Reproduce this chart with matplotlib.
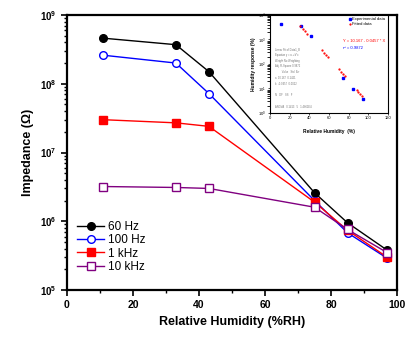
import matplotlib
matplotlib.use("Agg")
import matplotlib.pyplot as plt
import numpy as np

plt.rcParams['font.family'] = ['Liberation Sans', 'DejaVu Sans']

rh = [11, 33, 43, 75, 85, 97]
z_60hz = [4.6e8, 3.7e8, 1.5e8, 2.6e6, 9.5e5, 3.8e5]
z_100hz = [2.6e8, 2.0e8, 7.2e7, 2.0e6, 6.8e5, 2.9e5]
z_1khz = [3.0e7, 2.7e7, 2.4e7, 1.9e6, 7.4e5, 3.0e5]
z_10khz = [3.2e6, 3.1e6, 3.0e6, 1.6e6, 7.6e5, 3.5e5]
labels = ['60 Hz', '100 Hz', '1 kHz', '10 kHz']

inset_x = [11, 32, 41.5, 74, 84, 95]
inset_y = [4200, 3400, 1400, 26, 9.5, 3.8]
fit_x = [31, 34, 36, 38, 53, 55, 57, 59, 70, 72, 74, 76, 88, 90, 92, 94]

fig = plt.figure(figsize=(4.1, 3.42), dpi=100)
ax = fig.add_axes([67/410, 52/342, 330/410, 275/342])

ax.plot(rh, z_60hz, '-o', color='black', mfc='black', mec='black', ms=5.5, lw=1.0, label=labels[0])
ax.plot(rh, z_100hz, '-o', color='blue', mfc='white', mec='blue', ms=5.5, lw=1.0, label=labels[1])
ax.plot(rh, z_1khz, '-s', color='red', mfc='red', mec='red', ms=5.5, lw=1.0, label=labels[2])
ax.plot(rh, z_10khz, '-s', color='#800080', mfc='white', mec='#800080', ms=5.5, lw=1.0, label=labels[3])

ax.set_yscale('log')
ax.set_ylim(1e5, 1e9)
ax.set_xlim(0, 100)
ax.set_xticks([0, 20, 40, 60, 80, 100])
ax.set_xticks([10, 30, 50, 70, 90], minor=True)
for lab in ax.get_xticklabels():
    lab.set_fontweight('bold')
    lab.set_fontsize(7.5)
for lab in ax.get_yticklabels():
    lab.set_fontweight('bold')
    lab.set_fontsize(7)
ax.tick_params(axis='both', which='major', length=4, width=1.2, direction='out')
ax.tick_params(axis='both', which='minor', length=2.5, width=1, direction='out')
for s in ax.spines.values():
    s.set_linewidth(1.6)
ax.set_xlabel('Relative Humidity (%RH)', fontsize=9, fontweight='bold')
ax.set_ylabel('Impedance (\u03a9)', fontsize=9, fontweight='bold')
ax.legend(loc='lower left', frameon=False, fontsize=8.5, handlelength=2.3,
          handletextpad=0.3, labelspacing=0.1, borderaxespad=0.6,
          bbox_to_anchor=(-0.005, 0.02))

# inset
ins = fig.add_axes([270/410, 229/342, 118/410, 98/342])
ins.plot(inset_x, inset_y, 's', color='blue', ms=1.5, label='Experimental data')
fit_y = [10 ** (4.98 - 0.0457 * x) for x in fit_x]
ins.plot(fit_x, fit_y, '.', color='red', ms=1.2, label='Fitted data')
ins.set_yscale('log')
ins.set_ylim(1, 1e4)
ins.set_xlim(0, 120)
ins.set_xticks([0, 20, 40, 60, 80, 100, 120])
ins.tick_params(labelsize=3, length=1.5, width=0.5, pad=1)
for s in ins.spines.values():
    s.set_linewidth(0.8)
ins.set_xlabel('Relative Humidity  (%)', fontsize=3.5, fontweight='bold', labelpad=6)
ins.set_ylabel('Humidity response (%)', fontsize=3.5, fontweight='bold', labelpad=2)
ins.legend(loc='upper right', frameon=False, fontsize=3, handlelength=0.6,
           handletextpad=0.3, labelspacing=0.2, borderaxespad=0.2)
ins.text(0.62, 0.72, 'Y = 10.167 - 0.0457 * X', color='red', fontsize=3, transform=ins.transAxes)
ins.text(0.62, 0.65, 'r\u00b2 = 0.9872', color='blue', fontsize=3, transform=ins.transAxes)
table = ('Linear Fit of Data1_B\nEquation y = a + b*x\nWeight No Weighting\n'
         'Adj. R-Square 0.9872\n         Value   Std. Err\n'
         'a  10.167  0.1421\nb  -0.0457  0.0022\n\nN   DF   SS   F\n\nANOVA   0.1413   5   1.4861E4')
ins.text(0.04, 0.04, table, color='#777777', fontsize=1.9, transform=ins.transAxes,
         va='bottom', linespacing=1.6)

fig.savefig('out.png', dpi=100)
